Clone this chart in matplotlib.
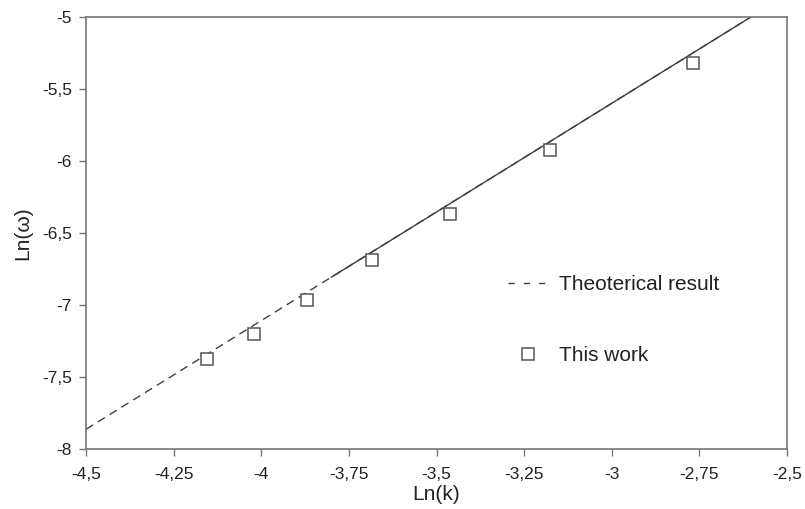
import matplotlib
matplotlib.use('Agg')
import matplotlib.pyplot as plt
from matplotlib.ticker import FuncFormatter, MultipleLocator

plt.rcParams['font.family'] = ['Liberation Sans', 'DejaVu Sans']

# measured points ("This work")
work_x = [-4.156, -4.022, -3.869, -3.685, -3.462, -3.175, -2.769]
work_y = [-7.375, -7.201, -6.963, -6.688, -6.370, -5.921, -5.322]

# theoretical line (dashed over the full range, solid over the upper part)
theory_x = [-4.5, -2.603]
theory_y = [-7.863, -5.0]
solid_x = [-3.80, -2.603]
solid_y = [-6.807, -5.0]


def comma_fmt(v, pos):
    return ('%g' % v).replace('.', ',')


fig = plt.figure(figsize=(8.05, 5.09), dpi=100)
ax = fig.add_axes([86 / 805, 60 / 509, 701 / 805, 432 / 509])

line_col = '#404040'
ax.plot(theory_x, theory_y, color=line_col, lw=1.0, dashes=(6, 4),
        label='Theoterical result')
ax.plot(solid_x, solid_y, color=line_col, lw=1.0)
ax.plot(work_x, work_y, linestyle='none', marker='s', markersize=8,
        markerfacecolor='white', markeredgecolor='#555555', markeredgewidth=1.1,
        label='This work')

ax.set_xlim(-4.5, -2.5)
ax.set_ylim(-8, -5)
ax.xaxis.set_major_locator(MultipleLocator(0.25))
ax.yaxis.set_major_locator(MultipleLocator(0.5))
ax.xaxis.set_major_formatter(FuncFormatter(comma_fmt))
ax.yaxis.set_major_formatter(FuncFormatter(comma_fmt))

for s in ax.spines.values():
    s.set_color('#777777')
    s.set_linewidth(1.2)
ax.tick_params(direction='out', length=5, width=1.0, color='#777777',
               labelsize=12.5, labelcolor='#222222')
ax.tick_params(axis='x', pad=8)
ax.tick_params(axis='y', pad=5)

ax.set_xlabel('Ln(k)', fontsize=15, color='#222222', labelpad=2)
ax.set_ylabel('Ln(\u03c9)', fontsize=15, color='#222222', labelpad=7)

leg = ax.legend(loc='center left', bbox_to_anchor=(508 / 805, 189 / 509),
                bbox_transform=fig.transFigure, frameon=False, fontsize=15,
                labelspacing=2.5, handlelength=1.9, handletextpad=0.55,
                borderpad=0, borderaxespad=0, numpoints=1)
leg.get_lines()[0].set_dashes((4.5, 6.5))
for t in leg.get_texts():
    t.set_color('#222222')

fig.savefig('out.png', dpi=100)
